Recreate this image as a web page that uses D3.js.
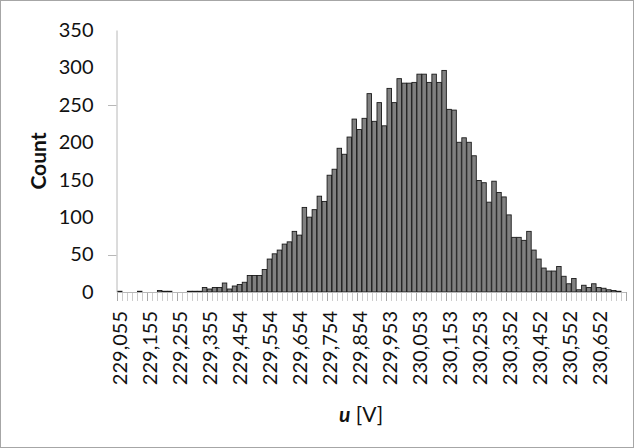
<!DOCTYPE html>
<html>
<head>
<meta charset="utf-8">
<script src="https://cdn.jsdelivr.net/npm/d3@7"></script>
<style>
  html, body { margin: 0; padding: 0; background: #fff; }
  svg { display: block; }
  text { font-family: Lato, "Open Sans", "Liberation Sans", sans-serif; }
</style>
</head>
<body>
<svg id="chart" width="634" height="448"></svg>
<script>
// Histogram counts per voltage bin (bin width ~0.0166 V)
const counts = [
  1, 0, 0, 0, 1, 0, 0, 0, 2, 1,
  1, 0, 0, 0, 1, 1, 1, 6, 4, 6,
  6, 12, 4, 8, 10, 13, 22, 22, 22, 30,
  44, 51, 56, 64, 67, 81, 76, 113, 100, 110,
  128, 121, 156, 164, 192, 184, 207, 231, 217, 232,
  265, 228, 253, 222, 272, 253, 285, 279, 279, 280,
  291, 291, 280, 291, 280, 296, 244, 243, 200, 206,
  200, 182, 149, 146, 120, 148, 133, 127, 103, 73,
  73, 69, 81, 56, 44, 32, 28, 28, 34, 21,
  11, 18, 3, 9, 6, 11, 6, 5, 3, 2,
  1, 0
];
// Category labels shown on the axis (every 6th bin)
const tickLabels = [
  "229,055", "229,155", "229,255", "229,355", "229,454", "229,554",
  "229,654", "229,754", "229,854", "229,953", "230,053", "230,153",
  "230,253", "230,352", "230,452", "230,552", "230,652"
];
const labelEvery = 6;
const yTicks = [0, 50, 100, 150, 200, 250, 300, 350];
const yTickMarks = [50, 250];
const yTitle = "Count";
const xTitleItalic = "u";
const xTitleRest = " [V]";

const svg = d3.select("#chart");
const W = 634, H = 448;
const m = { left: 117, right: 8, top: 30, bottom: 156 };
const x0 = m.left, x1 = W - m.right, yTop = m.top, yBot = H - m.bottom;

// chart border
svg.append("rect")
  .attr("x", 0.5).attr("y", 0.5)
  .attr("width", W - 1).attr("height", H - 1)
  .attr("fill", "#fff").attr("stroke", "#a6a6a6").attr("stroke-width", 1);

const idx = d3.range(counts.length);
const x = d3.scaleBand().domain(idx).range([x0, x1]).paddingInner(0).paddingOuter(0);
const y = d3.scaleLinear().domain([0, 350]).range([yBot, yTop]);

// bars
svg.append("g").selectAll("rect")
  .data(idx)
  .join("rect")
  .attr("x", i => x(i) + 0.5)
  .attr("y", i => y(counts[i]))
  .attr("width", x.bandwidth() - 0.5)
  .attr("height", i => y(0) - y(counts[i]))
  .attr("fill", "#808080")
  .attr("stroke", "#1a1a1a")
  .attr("stroke-width", 0.9);

// y axis
const yAxis = svg.append("g").attr("transform", `translate(${x0 - 0.5},0)`)
  .call(d3.axisLeft(y).tickValues(yTicks).tickSize(0).tickPadding(23).tickFormat(d3.format("d")));
yAxis.select(".domain").attr("stroke", "#b8b8b8");
yAxis.selectAll(".tick text").attr("font-size", 20).attr("fill", "#111");
svg.append("g").selectAll("line")
  .data(yTickMarks)
  .join("line")
  .attr("x1", x0 - 9).attr("x2", x0 - 0.5)
  .attr("y1", d => Math.round(y(d)) + 0.5).attr("y2", d => Math.round(y(d)) + 0.5)
  .attr("stroke", "#b8b8b8");

// x axis: minor ticks at every bin boundary, major every labelEvery bins
const boundaries = idx.map(i => x(i)).concat([x1]);
const xg = svg.append("g");
xg.selectAll("line.minor")
  .data(boundaries)
  .join("line")
  .attr("class", "minor")
  .attr("x1", d => Math.round(d) + 0.5).attr("x2", d => Math.round(d) + 0.5)
  .attr("y1", yBot).attr("y2", yBot + 9)
  .attr("stroke", (d, i) => i % labelEvery === 0 ? "#a8a8a8" : "#cccccc")
  .attr("stroke-width", 1);
xg.append("line")
  .attr("x1", x0).attr("x2", x1)
  .attr("y1", yBot + 0.5).attr("y2", yBot + 0.5)
  .attr("stroke", "#b8b8b8");

// x tick labels
xg.selectAll("text.xl")
  .data(tickLabels)
  .join("text")
  .attr("class", "xl")
  .attr("transform", (d, k) => {
    const cx = x(k * labelEvery) + x.bandwidth() / 2 + 1;
    return `translate(${cx},${yBot + 19}) rotate(-90)`;
  })
  .attr("text-anchor", "end")
  .attr("dy", "0.35em")
  .attr("font-size", 20)
  .attr("fill", "#111")
  .text(d => d);

// axis titles
svg.append("text")
  .attr("transform", `translate(39,${(yTop + yBot) / 2}) rotate(-90)`)
  .attr("text-anchor", "middle")
  .attr("dy", "0.35em")
  .attr("font-size", 21)
  .attr("font-weight", "bold")
  .attr("fill", "#111")
  .text(yTitle);

const xt = svg.append("text")
  .attr("x", 361)
  .attr("y", 422)
  .attr("text-anchor", "middle")
  .attr("font-size", 21)
  .attr("fill", "#111");
xt.append("tspan").attr("font-style", "italic").attr("font-weight", "bold").text(xTitleItalic);
xt.append("tspan").text(xTitleRest);
</script>
</body>
</html>
